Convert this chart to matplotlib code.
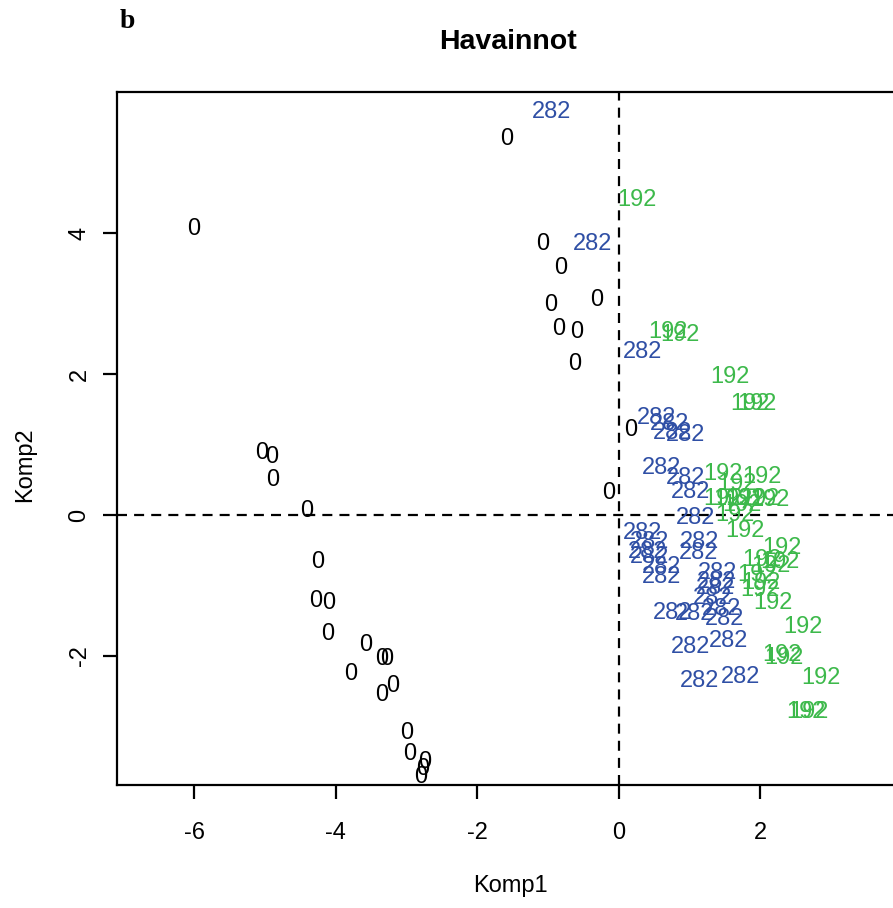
import matplotlib
matplotlib.use('Agg')
import matplotlib.pyplot as plt

matplotlib.rc('font', family='Liberation Sans', size=17)
matplotlib.rcParams['axes.unicode_minus'] = False

# group 0 scores
zero_x = [-1.58, -6.00, -1.07, -0.82, -0.31, -0.96, -0.85, -0.59, -0.62, 0.17,
          -0.14, -5.04, -4.90, -4.89, -4.41, -4.25, -4.28, -4.10, -4.12, -3.57,
          -3.35, -3.28, -3.79, -3.19, -3.35, -2.99, -2.96, -2.74, -2.77, -2.80]
zero_y = [5.33, 4.06, 3.84, 3.50, 3.05, 2.98, 2.64, 2.60, 2.14, 1.21,
          0.31, 0.88, 0.82, 0.50, 0.06, -0.67, -1.22, -1.25, -1.69, -1.84,
          -2.04, -2.04, -2.25, -2.43, -2.56, -3.09, -3.39, -3.50, -3.61, -3.72]

# group 282 scores
g282_x = [-0.95, -0.37, 0.34, 0.54, 0.72, 0.76, 0.95, 0.61, 0.95, 1.02,
          1.09, 0.34, 0.44, 0.41, 0.44, 0.61, 0.61, 1.14, 1.12, 1.40,
          1.38, 1.36, 1.33, 0.76, 1.07, 1.45, 1.50, 1.02, 1.55, 1.14, 1.72]
g282_y = [5.72, 3.84, 2.31, 1.38, 1.29, 1.16, 1.13, 0.67, 0.52, 0.33,
          -0.04, -0.26, -0.38, -0.52, -0.60, -0.74, -0.88, -0.38, -0.54, -0.82,
          -0.95, -1.04, -1.18, -1.39, -1.40, -1.33, -1.48, -1.87, -1.79, -2.35, -2.30]

# group 192 scores
g192_x = [0.25, 0.69, 0.86, 1.57, 1.85, 1.95, 1.47, 2.02, 1.67, 1.47,
          1.61, 1.78, 1.99, 2.13, 1.74, 1.64, 1.78, 2.30, 2.02, 2.27,
          2.15, 1.95, 2.01, 1.99, 2.18, 2.60, 2.30, 2.34, 2.85, 2.64, 2.68]
g192_y = [4.47, 2.60, 2.55, 1.96, 1.57, 1.57, 0.58, 0.54, 0.44, 0.23,
          0.23, 0.23, 0.23, 0.21, 0.14, 0.00, -0.23, -0.47, -0.64, -0.67,
          -0.72, -0.85, -0.96, -1.06, -1.25, -1.59, -1.99, -2.03, -2.31, -2.79, -2.79]

groups = [('0', zero_x, zero_y, 'black'),
          ('282', g282_x, g282_y, '#2F4FA5'),
          ('192', g192_x, g192_y, '#3DB94B')]

fig = plt.figure(figsize=(8.93, 9.08), dpi=100)
ax = fig.add_axes([0.131, 0.1355, 0.879, 0.7632])

for lab, xs, ys, col in groups:
    for x, y in zip(xs, ys):
        ax.text(x, y, lab, color=col, ha='center', va='center')

ax.axhline(0, color='black', lw=1.6, linestyle=(0, (4.5, 3.2)))
ax.axvline(0, color='black', lw=1.6, linestyle=(0, (4.5, 3.2)))

ax.set_xlim(-7.09, 4.0)
ax.set_ylim(-3.83, 6.0)
ax.set_xticks([-6, -4, -2, 0, 2])
ax.set_yticks([-2, 0, 2, 4])
for s in ax.spines.values():
    s.set_linewidth(1.6)
ax.tick_params(axis='both', direction='out', length=10, width=1.6)
ax.tick_params(axis='x', pad=17)
ax.tick_params(axis='y', pad=9)
for t in ax.get_yticklabels():
    t.set_rotation(90)
    t.set_va('center')

fig.text(510 / 893, 1 - 886 / 908, 'Komp1', ha='center', va='center')
fig.text(25 / 893, 1 - 465 / 908, 'Komp2', ha='center', va='center', rotation=90)
fig.text(508 / 893, 1 - 42 / 908, 'Havainnot', ha='center', va='center',
         fontsize=20.5, fontweight='bold')
fig.text(127 / 893, 1 - 21 / 908, 'b', ha='center', va='center',
         family='Liberation Serif', fontweight='bold', fontsize=20)

fig.savefig('out.png', dpi=100)
